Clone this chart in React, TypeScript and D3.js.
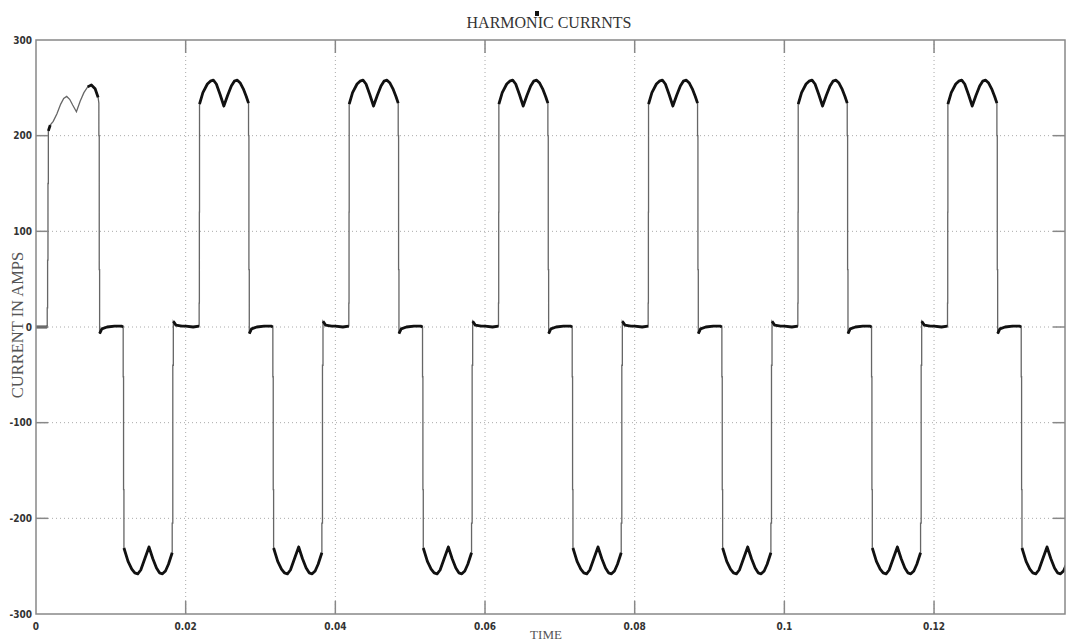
import React from 'react';
import * as d3 from 'd3';

// ---- Data ----
const X_TICKS = [0, 0.02, 0.04, 0.06, 0.08, 0.1, 0.12];
const X_TICK_LABELS = ['0', '0.02', '0.04', '0.06', '0.08', '0.1', '0.12'];
const Y_TICKS = [-300, -200, -100, 0, 100, 200, 300];
const Y_TICK_LABELS = ['-300', '-200', '-100', '0', '100', '200', '300'];
const X_DOMAIN = [0, 0.1375];
const Y_DOMAIN = [-300, 300];

// first (start-up) cycle, positive half: time (s), current (A)
const FIRST_T = [0, 0.0008, 0.0015, 0.0015, 0.00155, 0.00155, 0.0016, 0.0016, 0.00165, 0.00165, 0.0019,
  0.0023, 0.0028, 0.0033, 0.0037, 0.0041, 0.0045, 0.0049, 0.0054, 0.0059, 0.0064, 0.0069, 0.0074, 0.0079, 0.0083];
const FIRST_I = [0, 0, 0, 20, 20, 70, 70, 150, 150, 205, 211,
  215, 223, 233, 239, 241, 238, 232, 225, 236, 245, 251, 253, 249, 240];

// steady-state cycle: offset inside the cycle (s), current (A)
const CYCLE_T = [0.0000, 0.0010, 0.0018, 0.0018, 0.00183, 0.00183, 0.00185, 0.00185,
  0.0023, 0.0029, 0.0033, 0.0037, 0.0041, 0.0046, 0.0051, 0.0056, 0.0061, 0.0065, 0.0069, 0.0073, 0.0077, 0.0081, 0.0084,
  0.0084, 0.00845, 0.00845, 0.0085, 0.0085, 0.0088, 0.0095, 0.0105, 0.0114, 0.01165,
  0.01165, 0.0117, 0.0117, 0.01175, 0.01175,
  0.0123, 0.0128, 0.0132, 0.0136, 0.0140, 0.0145, 0.0151, 0.0156, 0.0161, 0.0165, 0.0169, 0.0173, 0.0177, 0.0182,
  0.0182, 0.01828, 0.01828, 0.01835, 0.01835, 0.0187, 0.0195];
const CYCLE_I = [1, 0, 1, 25, 25, 120, 120, 233,
  245, 254, 257, 258, 254, 243, 231, 242, 252, 257, 258, 255, 249, 241, 234,
  200, 200, 60, 60, -7, -2, 0, 1, 1, 0,
  -52, -52, -170, -170, -231,
  -245, -253, -257, -258, -254, -243, -230, -242, -252, -257, -258, -255, -248, -236,
  -205, -205, -40, -40, 6, 2, 1];

const CYCLE_STARTS = [0.02, 0.04, 0.06, 0.08, 0.1, 0.12];
const FALL_OFFSET = 0.0084; // first cycle joins the steady template here

type P = { t: number; i: number };

function buildSeries(): P[] {
  const pts: P[] = [];
  FIRST_T.forEach((t, k) => pts.push({ t, i: FIRST_I[k] }));
  CYCLE_T.forEach((t, k) => { if (t >= FALL_OFFSET) pts.push({ t, i: CYCLE_I[k] }); });
  CYCLE_STARTS.forEach((t0) => {
    CYCLE_T.forEach((t, k) => pts.push({ t: t0 + t, i: CYCLE_I[k] }));
  });
  return pts;
}

const W = 1069, H = 644;
const L = 36, R = 1065, T = 40, B = 614;

export default function App() {
  const x = d3.scaleLinear().domain(X_DOMAIN).range([L, R]);
  const y = d3.scaleLinear().domain(Y_DOMAIN).range([B, T]);
  const pts = buildSeries();
  const line = d3.line<P>().x((d) => x(d.t)).y((d) => y(d.i));

  // thick runs: non-vertical segments (noisy plateaus and humps)
  const runs: P[][] = [];
  let cur: P[] = [];
  for (let k = 0; k < pts.length - 1; k++) {
    const a = pts[k], b = pts[k + 1];
    const horiz = b.t - a.t > 0.0002;
    const earlyThin = a.t > 0.0017 && a.t < 0.0068;
    if (horiz && !earlyThin) {
      if (cur.length === 0) cur.push(a);
      cur.push(b);
    } else if (cur.length) {
      runs.push(cur);
      cur = [];
    }
  }
  if (cur.length) runs.push(cur);

  const gridX = X_TICKS.filter((v) => v > X_DOMAIN[0]);
  const gridY = Y_TICKS.filter((v) => v > Y_DOMAIN[0] && v < Y_DOMAIN[1]);
  const tickFont = "'Liberation Sans Narrow', 'DejaVu Sans Condensed', 'DejaVu Sans', sans-serif";
  const serif = "'Liberation Serif', 'DejaVu Serif', serif";

  return (
    <svg width={W} height={H} style={{ position: 'absolute', left: 0, top: 0, background: '#fff' }}>
      <defs>
        <clipPath id="plot">
          <rect x={L} y={T} width={R - L} height={B - T} />
        </clipPath>
      </defs>
      {/* grid */}
      {gridX.map((v) => (
        <line key={'gx' + v} x1={x(v)} x2={x(v)} y1={T} y2={B} stroke="#aaa" strokeWidth={1} strokeDasharray="1,3" />
      ))}
      {gridY.map((v) => (
        <line key={'gy' + v} x1={L} x2={R} y1={y(v)} y2={y(v)} stroke="#aaa" strokeWidth={1} strokeDasharray="1,3" />
      ))}
      {/* waveform */}
      <g clipPath="url(#plot)">
        <path d={line(pts) || ''} fill="none" stroke="#666" strokeWidth={1.3} />
        {runs.map((r, k) => (
          <path key={k} d={line(r) || ''} fill="none" stroke="#111" strokeWidth={2.8} strokeLinejoin="round" />
        ))}
      </g>
      {/* frame */}
      <rect x={L} y={T} width={R - L} height={B - T} fill="none" stroke="#888" strokeWidth={1.5} />
      {/* ticks */}
      {gridX.map((v) => (
        <g key={'tx' + v}>
          <line x1={x(v)} x2={x(v)} y1={B} y2={B - 13} stroke="#888" strokeWidth={1.5} />
          <line x1={x(v)} x2={x(v)} y1={T} y2={T + 13} stroke="#888" strokeWidth={1.5} />
        </g>
      ))}
      {gridY.map((v) => (
        <g key={'ty' + v}>
          <line x1={L} x2={L + 12} y1={y(v)} y2={y(v)} stroke="#888" strokeWidth={1.5} />
          <line x1={R} x2={R - 12} y1={y(v)} y2={y(v)} stroke="#888" strokeWidth={1.5} />
        </g>
      ))}
      {/* tick labels */}
      {X_TICKS.map((v, k) => (
        <text key={'lx' + v} x={x(v)} y={630} textAnchor="middle" fontFamily={tickFont} fontWeight="bold" fontSize={10} fill="#333">
          {X_TICK_LABELS[k]}
        </text>
      ))}
      {Y_TICKS.map((v, k) => (
        <text key={'ly' + v} x={32} y={y(v) + 3.5} textAnchor="end" fontFamily={tickFont} fontWeight="bold" fontSize={10} fill="#333">
          {Y_TICK_LABELS[k]}
        </text>
      ))}
      {/* title and labels */}
      <text x={549} y={28} textAnchor="middle" fontFamily={serif} fontSize={16} fill="#333">HARMONIC CURRNTS</text>
      <rect x={535} y={11} width={4} height={5} fill="#111" />
      <text x={546} y={639} textAnchor="middle" fontFamily={serif} fontSize={13} fill="#555">TIME</text>
      <text transform="translate(23,325) rotate(-90)" textAnchor="middle" fontFamily={serif} fontSize={16.5} fill="#555">
        CURRENT IN AMPS
      </text>
    </svg>
  );
}
